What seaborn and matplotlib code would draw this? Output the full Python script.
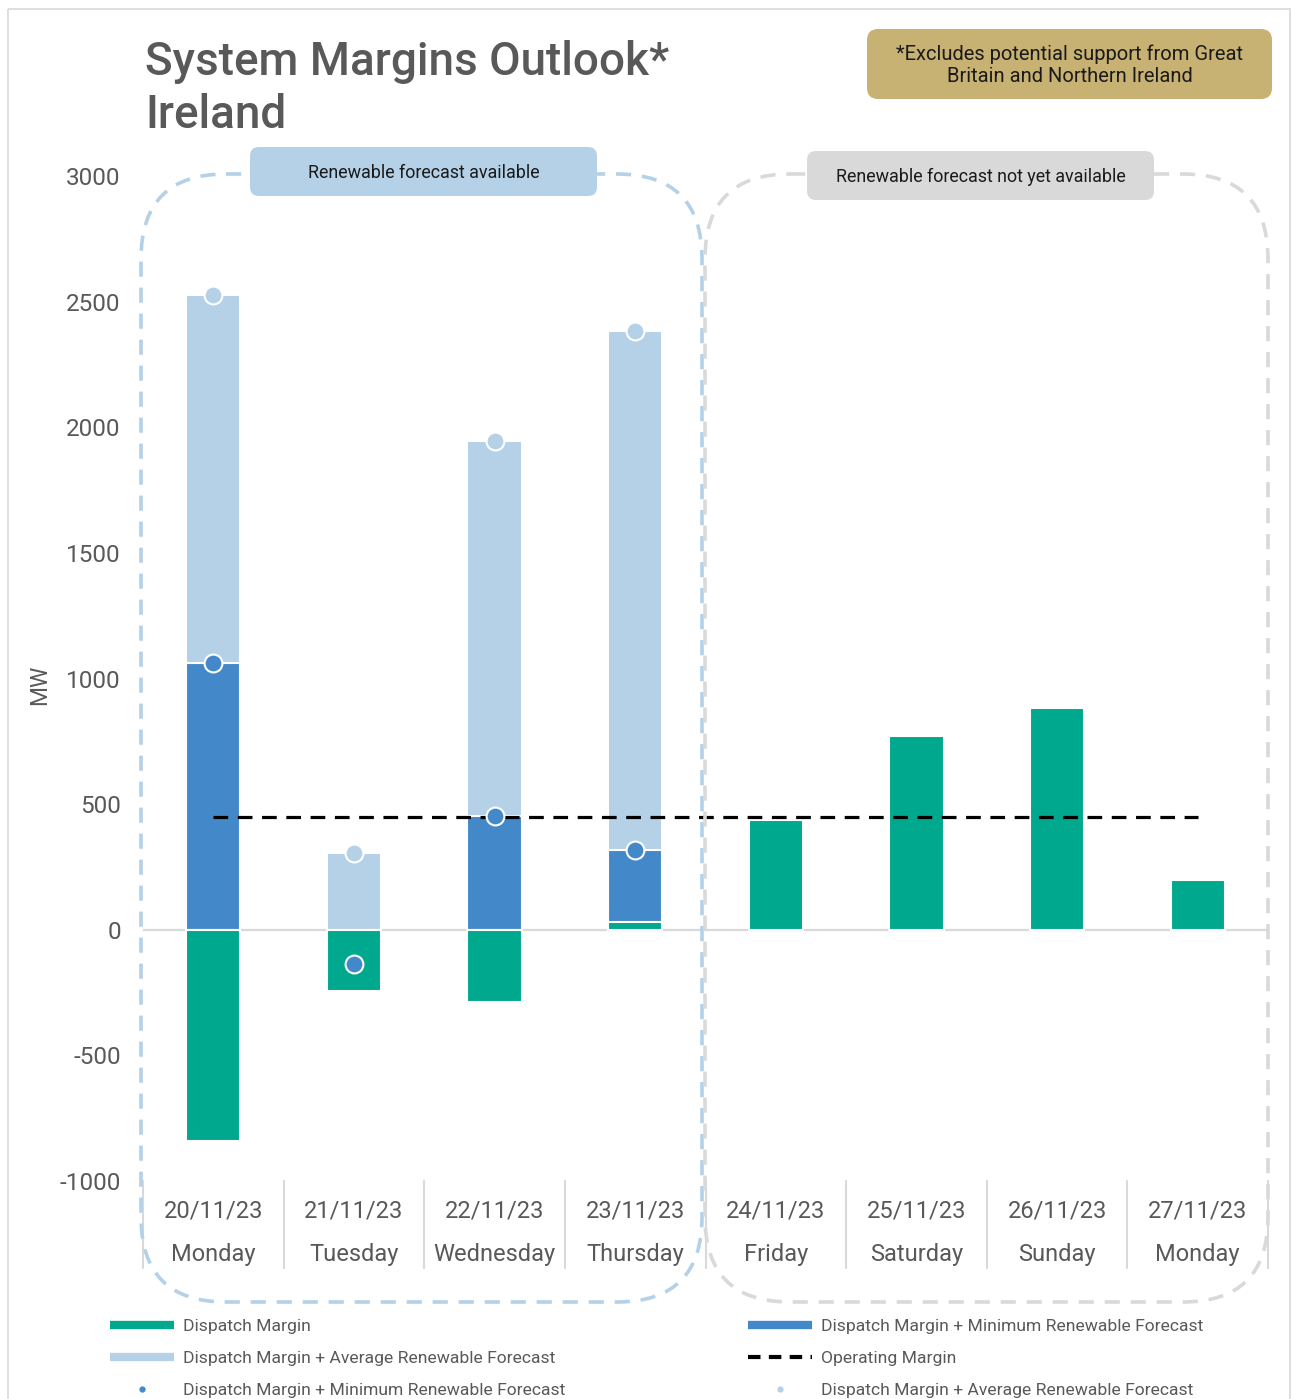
import numpy as np
import pandas as pd
import matplotlib
matplotlib.use("Agg")
import matplotlib.pyplot as plt
import matplotlib.transforms as mtransforms
from matplotlib.patches import FancyBboxPatch, Rectangle
from matplotlib.lines import Line2D
import seaborn as sns

# ---------------- data ----------------
dates = ["20/11/23", "21/11/23", "22/11/23", "23/11/23",
         "24/11/23", "25/11/23", "26/11/23", "27/11/23"]
days = ["Monday", "Tuesday", "Wednesday", "Thursday",
        "Friday", "Saturday", "Sunday", "Monday"]
dispatch_margin = [-841, -243, -287, 32, 438, 773, 884, 199]
dm_min_renewable = [1060, -135, 454, 319]
dm_avg_renewable = [2525, 307, 1944, 2382]
operating_margin = [450] * 8
y_ticks = [-1000, -500, 0, 500, 1000, 1500, 2000, 2500, 3000]

GREEN = "#00A88E"
DARK = "#4389C9"
LIGHT = "#B4D1E8"
GREY_TXT = "#595959"

sns.set_theme(style="white")
plt.rcParams["font.family"] = ["Roboto", "DejaVu Sans"]

cats = [f"{d}\n{w}" for d, w in zip(dates, days)]

W, H = 1292, 1399
fig = plt.figure(figsize=(W / 100, H / 100), dpi=100)
ax = fig.add_axes([143 / W, 1 - 1181 / H, 1125 / W, 1005 / H])
ax.set_facecolor("none")

bar_kw = dict(width=0.385, edgecolor="white", linewidth=1.5, saturation=1,
              errorbar=None, order=cats, ax=ax)
sns.barplot(x=cats[:4], y=dm_avg_renewable, color=LIGHT, **bar_kw)
sns.barplot(x=cats[:4], y=dm_min_renewable, color=DARK, **bar_kw)
sns.barplot(x=cats, y=dispatch_margin, color=GREEN, **bar_kw)

# zero line
ax.axhline(0, color="#d9d9d9", lw=1.6, zorder=0.5)

# operating margin
pos = np.arange(len(cats))
ax.plot(pos, operating_margin, color="black", lw=2.3,
        dashes=(4.6, 3.0), zorder=4)

# markers
ax.scatter(pos[:4], dm_avg_renewable, s=165, color=LIGHT,
           edgecolor="white", linewidth=1.5, zorder=5)
ax.scatter(pos[:4], dm_min_renewable, s=165, color=DARK,
           edgecolor="white", linewidth=1.5, zorder=5)

ax.set_xlim(-0.5, 7.5)
ax.set_ylim(-1000, 3000)
ax.set_yticks(y_ticks)
ax.set_yticklabels([str(v) for v in y_ticks])
ax.tick_params(axis="y", length=0, pad=16, labelsize=17.5, labelcolor=GREY_TXT)
ax.tick_params(axis="x", length=0, pad=13, labelsize=17, labelcolor=GREY_TXT)
for lbl in ax.get_xticklabels():
    lbl.set_linespacing(2.15)
ax.set_xlabel("")
ax.set_ylabel("MW", fontsize=16.5, color=GREY_TXT)
ax.yaxis.set_label_coords(-0.082, 0.494)
for s in ax.spines.values():
    s.set_visible(False)

# category separators under the axis
trans = mtransforms.blended_transform_factory(ax.transData, ax.transAxes)
for xb in np.arange(-0.5, 8.0, 1.0):
    ax.plot([xb, xb], [0, -0.0866], transform=trans, color="#d9d9d9",
            lw=1.5, clip_on=False)

# ---------------- overlay (pixel coordinates) ----------------
ov = fig.add_axes([0, 0, 1, 1], zorder=5)
ov.set_xlim(0, W)
ov.set_ylim(H, 0)
ov.axis("off")

ov.add_patch(Rectangle((8, 9), 1282, 1400, fill=False, edgecolor="#d9d9d9", lw=1.2))

def dashed_box(x0, y0, x1, y1, color):
    p = FancyBboxPatch((x0, y0), x1 - x0, y1 - y0,
                       boxstyle="round,pad=0,rounding_size=85",
                       fill=False, edgecolor=color, lw=2.6)
    p.set_linestyle((0, (4.2, 3.0)))
    ov.add_patch(p)

dashed_box(141, 174, 702, 1302, LIGHT)
dashed_box(705, 174, 1268, 1302, "#d9d9d9")

def label_box(x0, y0, x1, y1, fc, text, fs, r=9):
    ov.add_patch(FancyBboxPatch((x0, y0), x1 - x0, y1 - y0,
                                boxstyle=f"round,pad=0,rounding_size={r}",
                                facecolor=fc, edgecolor="none"))
    ov.text((x0 + x1) / 2, (y0 + y1) / 2 + 1, text, ha="center", va="center",
            fontsize=fs, color="#1a1a1a", linespacing=1.2)

label_box(250, 147, 597, 196, LIGHT, "Renewable forecast available", 12.9)
label_box(807, 151, 1154, 200, "#D9D9D9", "Renewable forecast not yet available", 12.9)
label_box(867, 29, 1272, 99, "#C8B273",
          "*Excludes potential support from Great\nBritain and Northern Ireland", 14.5, r=11)

ov.text(145, 75, "System Margins Outlook*", fontsize=33, color=GREY_TXT,
        fontweight="medium", va="baseline", ha="left")
ov.text(145, 128, "Ireland", fontsize=33, color=GREY_TXT,
        fontweight="medium", va="baseline", ha="left")

# ---------------- legends ----------------
leg_kw = dict(frameon=False, fontsize=12.6, handlelength=3.65, handletextpad=0.5,
              labelspacing=0.95, borderpad=0, borderaxespad=0, loc="upper left",
              labelcolor=GREY_TXT)
h_left = [Line2D([], [], color=GREEN, lw=6, solid_capstyle="butt"),
          Line2D([], [], color=LIGHT, lw=6, solid_capstyle="butt"),
          Line2D([], [], color=DARK, ls="none", marker="o", ms=3.5)]
l_left = ["Dispatch Margin", "Dispatch Margin + Average Renewable Forecast",
          "Dispatch Margin + Minimum Renewable Forecast"]
h_right = [Line2D([], [], color=DARK, lw=6, solid_capstyle="butt"),
           Line2D([], [], color="black", lw=3, dashes=(3.0, 2.0)),
           Line2D([], [], color=LIGHT, ls="none", marker="o", ms=3.5)]
l_right = ["Dispatch Margin + Minimum Renewable Forecast", "Operating Margin",
           "Dispatch Margin + Average Renewable Forecast"]
fig.legend(h_left, l_left, bbox_to_anchor=(110 / W, 1 - 1319 / H), **leg_kw)
fig.legend(h_right, l_right, bbox_to_anchor=(748 / W, 1 - 1319 / H), **leg_kw)

fig.savefig("out.png", dpi=100)
